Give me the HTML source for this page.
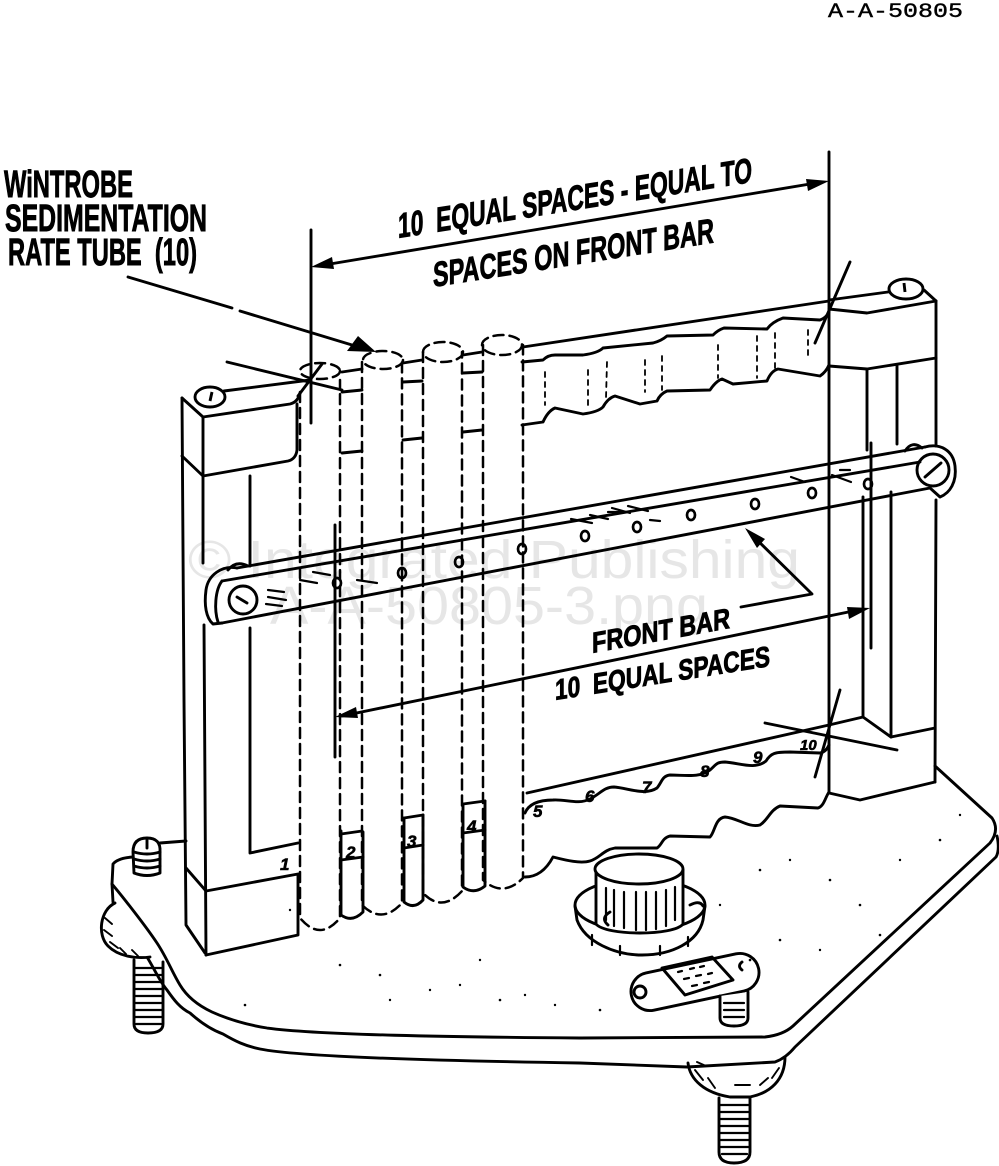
<!DOCTYPE html>
<html><head><meta charset="utf-8"><style>
html,body{margin:0;padding:0;background:#fff;}
svg{display:block}
</style></head><body>
<svg width="999" height="1166" viewBox="0 0 999 1166" xmlns="http://www.w3.org/2000/svg">
<rect width="999" height="1166" fill="#fff"/>

<!-- watermark -->
<g font-family="Liberation Sans, sans-serif" fill="#e6e6e6" font-size="54">
<text x="188" y="578" textLength="612" lengthAdjust="spacingAndGlyphs">© Integrated Publishing</text>
<text x="270" y="624" textLength="438" lengthAdjust="spacingAndGlyphs">A-A-50805-3.png</text>
</g>

<!-- header -->
<text x="828" y="17" font-family="Liberation Mono, monospace" font-size="20" textLength="135" lengthAdjust="spacingAndGlyphs" fill="#000" stroke="#000" stroke-width="0.4">A-A-50805</text>

<!-- labels -->
<g font-family="Liberation Sans Narrow, Liberation Sans, sans-serif" font-weight="bold" fill="#000" stroke="#000" stroke-width="0.9">
<text x="4" y="197" font-size="38" textLength="129" lengthAdjust="spacingAndGlyphs">WiNTROBE</text>
<text x="5" y="231" font-size="38" textLength="202" lengthAdjust="spacingAndGlyphs">SEDIMENTATION</text>
<text x="8" y="265" font-size="38" textLength="189" lengthAdjust="spacingAndGlyphs">RATE TUBE&#160; (10)</text>
<text transform="translate(398,238) skewY(-9)" font-size="35" textLength="354" lengthAdjust="spacingAndGlyphs">10&#160; EQUAL SPACES - EQUAL TO</text>
<text transform="translate(433,287) skewY(-9)" font-size="35" textLength="281" lengthAdjust="spacingAndGlyphs">SPACES ON FRONT BAR</text>
<text transform="translate(592,653) skewY(-10.3)" font-size="29" textLength="138" lengthAdjust="spacingAndGlyphs">FRONT BAR</text>
<text transform="translate(555,700) skewY(-9)" font-size="29" textLength="215" lengthAdjust="spacingAndGlyphs">10&#160; EQUAL SPACES</text>
</g>

<g stroke="#000" stroke-width="2.9" fill="none" stroke-linecap="round" stroke-linejoin="round">

<!-- dimension lines top -->
<path d="M311,230 L311,423"/>
<path d="M829,152 L829,793"/>
<path d="M318,266 L822,182"/>
<!-- wintrobe leader -->
<path d="M128,277 L232,308 M240,311 L352,345"/>

<!-- bottom dimension -->
<path d="M335,525 L335,757"/>
<path d="M871,443 L871,648"/>
<path d="M342,716 L863,609"/>
<!-- front bar leader -->
<path d="M741,607 L812,594 L752,535"/>

<!-- LEFT COLUMN -->
<path d="M182,398 L184,700 L186,925 L205,953"/>
<path d="M203,417 L203,563 M204,625 L206,955"/>
<path d="M182,398 L203,417 L290,404 Q298,402 300,393"/>
<path d="M224,391 L310,380"/>
<path d="M182,456 L203,476"/>
<path d="M203,476 L288,461 Q296,459 297,450 L297,404"/>
<path d="M250,476 L250,566 M250,628 L250,853 L298,843"/>
<path d="M186,868 L206,891 L298,874 L298,935 L206,955"/>

<!-- RIGHT COLUMN -->
<path d="M829,300 L888,292"/>
<path d="M924,290 L936,301"/>
<path d="M829,309 L867,313 L936,301"/>
<path d="M829,366 L867,369 L936,358"/>
<path d="M936,301 L936,446 M936,500 L935,782"/>
<path d="M867,369 L867,450 M897,366 L897,444"/>
<path d="M863,497 L863,717 M891,492 L891,737"/>
<path d="M829,725 L863,717 L891,737 L935,728"/>
<path d="M829,793 L860,800 L935,782"/>

<!-- BACK BAR -->
<path d="M523,347 L829,301"/>
<path d="M522,362 L543,360 Q548,355 555,355 L583,355 Q598,353 603,348 L653,343 Q661,341 667,336 L713,335 Q718,330 724,328 L767,329 Q772,322 783,318 L820,320 Q826,318 829,312"/>
<path d="M522,425 L543,422 Q548,411 555,408 L583,414 Q598,412 603,407 Q608,398 615,396 L640,404 L657,401 Q660,394 667,391 L710,390 Q716,381 722,379 L733,384 L767,381 Q771,371 778,369 L820,376 Q826,372 829,365"/>
<path d="M342,372 L362,369 M342,392 L362,390 M342,453 L362,451"/>
<path d="M403,363 L422,360 M403,382 L422,381 M403,440 L422,438"/>
<path d="M463,355 L482,352 M463,373 L482,372 M463,432 L482,430"/>
<g stroke-width="1.8" stroke-dasharray="5 5">
<path d="M545,372 L545,405 M588,370 L588,410 M607,362 L606,398 M645,360 L645,392 M662,356 L662,390 M718,345 L718,378 M757,336 L757,378 M775,333 L775,368 M808,330 L808,360"/>
</g>

<!-- FRONT BAR -->
<path d="M237,568 L925,447"/>
<path d="M222,581 L920,462"/>
<path d="M222,623 L930,488"/>
<path d="M237,568 C222,565 208,575 206,590 C204,605 206,618 213,624 L222,623"/>
<path d="M222,581 C215,590 214,610 218,622"/>
<path d="M228,570 Q236,560 248,566"/>
<circle cx="243" cy="600" r="14"/>
<path d="M237,597 L247,603"/>
<path d="M905,451 Q912,440 922,448"/>
<path d="M925,447 C940,443 953,450 955,466 C957,482 950,493 940,497 L930,488"/>
<circle cx="933" cy="470" r="16"/>
<path d="M925,477 L941,463"/>
<g stroke-width="2.7">
<ellipse cx="337" cy="583" rx="4" ry="5"/>
<ellipse cx="402" cy="573" rx="4" ry="5"/>
<ellipse cx="459" cy="562" rx="4" ry="5"/>
<ellipse cx="522" cy="549" rx="4" ry="5"/>
<ellipse cx="585" cy="536" rx="4" ry="5"/>
<ellipse cx="637" cy="527" rx="4" ry="5"/>
<ellipse cx="691" cy="515" rx="4" ry="5"/>
<ellipse cx="755" cy="504" rx="4" ry="5"/>
<ellipse cx="812" cy="493" rx="4" ry="5"/>
<ellipse cx="868" cy="484" rx="4" ry="5"/>
</g>
<g stroke-width="2.2">
<path d="M300,580 L317,583 M313,572 L330,575 M357,580 L377,583 M268,590 L284,592 M268,597 L286,600 M266,604 L282,606"/>
<path d="M571,519 L592,523 M590,515 L608,519 M612,508 L630,513 M628,506 L648,511 M650,520 L660,521 M608,512 L625,512"/>
<path d="M791,477 L805,482 M832,475 L851,482 M840,470 L850,470"/>
</g>

<!-- TUBES (dashed) -->
<g stroke-width="2.5" stroke-dasharray="10 6">
<path d="M300,392 L300,918 Q320,942 340,918 L340,380"/>
<path d="M362,362 L362,905 Q382,925 402,903 L402,362"/>
<path d="M423,352 L423,893 Q442,913 462,891 L462,352"/>
<path d="M483,345 L483,880 Q503,898 523,878 L523,345"/>
<ellipse cx="320" cy="371" rx="20" ry="8"/>
<ellipse cx="383" cy="360" rx="20" ry="9"/>
<ellipse cx="443" cy="352" rx="20" ry="10"/>
<ellipse cx="502" cy="345" rx="20" ry="10"/>
</g>

<!-- crosshairs -->
<path d="M227,362 L342,390"/>
<path d="M298,396 L322,364"/>
<path d="M850,262 L815,343"/>
<path d="M765,723 L897,750"/>
<path d="M840,690 L815,777"/>

<!-- slots 2-4 -->
<path d="M341,831 L341,915 Q352,923 363,912 L363,832"/>
<path d="M341,834 L362,831 M341,860 L363,857"/>
<path d="M404,818 L404,902 Q414,910 423,900 L423,815"/>
<path d="M404,818 L423,815 M404,848 L423,845"/>
<path d="M463,804 L463,887 Q474,895 485,886 L485,801"/>
<path d="M463,804 L485,801 M463,833 L485,830"/>

<!-- FRONT RACK -->
<path d="M527,793 L829,725"/>
<path d="M525,813 C530,801 545,800 553,800 C566,799 578,805 590,799 C600,794 604,787 614,787 C628,788 645,796 657,788 C662,782 662,776 670,775 C685,775 700,778 710,770 C716,765 716,762 725,762 C740,763 755,770 766,761 C771,753 775,752 790,752 L820,753 Q826,752 829,745"/>
<path d="M525,877 C535,877 545,872 553,857 C565,860 580,864 590,861 C600,858 603,850 615,848 L657,848 C662,845 662,838 670,836 L710,837 C715,832 715,818 725,817 C738,818 748,828 760,825 C768,820 770,810 780,806 L818,808 C824,806 825,798 829,792"/>

<!-- BASE PLATE -->
<path d="M160,843 L186,841"/>
<path d="M133,857 Q118,858 113,864 L112,884 L113,902"/>
<path d="M112,884 C122,896 145,925 157,943 C167,958 172,972 180,985 C186,995 195,1004 212,1012 C230,1020 248,1025 267,1028 C320,1035 450,1037 580,1038 L765,1037 Q783,1035 793,1026 L990,843 Q1000,830 992,818 L935,766"/>
<path d="M147,957 C155,970 160,982 167,990 C174,1000 180,1008 190,1013 C200,1022 212,1030 223,1034 C235,1041 245,1046 260,1049 C300,1057 450,1061 580,1063 L687,1067 L775,1062 Q786,1058 795,1047 L996,857 Q1000,850 997,836"/>
<!-- left foot -->
<path d="M115,903 C100,910 97,935 108,946 C118,956 135,959 150,957" fill="#fff"/>
<g stroke-width="1.9"><path d="M105,918 L112,924 M104,930 L112,936 M110,942 L118,948 M120,948 L126,954 M132,950 L138,956"/></g>
<path d="M134,960 L134,1024 Q134,1033 148,1033 Q163,1033 163,1024 L163,962"/>
<g stroke-width="2.3"><path d="M135,968 L162,968 M135,975 L162,975 M135,982 L162,982 M135,989 L162,989 M135,996 L162,996 M135,1003 L162,1003 M135,1010 L162,1010 M135,1017 L162,1017 M136,1024 L161,1024"/></g>
<!-- top-left stud -->
<path d="M133,852 Q133,838 147,838 Q161,838 160,852 L160,873 Q147,878 134,873 Z" fill="#fff"/>
<path d="M134,852 Q147,856 160,852 M134,859 Q147,863 160,859 M134,866 Q147,870 160,866"/>
<path d="M147,840 L147,848"/>

<!-- right foot -->
<path d="M688,1063 C690,1080 705,1093 730,1097 L750,1097 C770,1093 785,1080 785,1057"/>
<g stroke-width="1.9"><path d="M695,1070 L703,1080 M708,1078 L715,1088 M760,1085 L768,1078 M772,1078 L779,1068 M697,1062 L706,1066 M735,1085 L750,1085"/></g>
<path d="M719,1098 L719,1152 Q719,1163 734,1163 Q750,1163 750,1152 L750,1098"/>
<g stroke-width="2.3"><path d="M720,1105 L749,1105 M720,1112 L749,1112 M720,1119 L749,1119 M720,1126 L749,1126 M720,1133 L749,1133 M720,1140 L749,1140 M720,1147 L749,1147 M722,1154 L747,1154"/></g>

<!-- knob -->
<ellipse cx="640" cy="905" rx="65" ry="26" fill="#fff"/>
<path d="M575,906 L577,920 C585,942 615,955 642,955 C672,955 698,942 703,920 L705,906"/>
<g stroke-width="2.2"><path d="M592,935 L592,945 M620,946 L620,955 M660,946 L660,955 M688,937 L688,946"/></g>
<path d="M596,870 L596,924 C606,936 674,936 683,924 L683,870 Z" fill="#fff"/>
<ellipse cx="639" cy="869" rx="44" ry="15" fill="#fff"/>
<g stroke-width="2.2"><path d="M606,888 L606,920 M614,890 L614,926 M624,892 L624,928 M636,892 L636,930 M646,892 L646,930 M656,892 L656,929 M666,890 L666,926 M675,887 L675,920"/></g>
<path d="M608,925 Q600,918 610,912"/>
<path d="M690,905 Q700,900 703,906"/>

<!-- tag -->
<rect x="-65" y="-19" width="130" height="38" rx="19" transform="translate(695,982) rotate(-12)" fill="#fff"/>
<path d="M662,968 L712,957 L733,980 L685,995 Z"/>
<circle cx="640" cy="992" r="6"/>
<path d="M742,962 Q737,966 742,970"/>
<g stroke-width="2.2"><path d="M678,972 L682,971 M690,969 L694,968 M700,967 L704,966 M684,979 L689,978 M696,976 L701,975 M708,974 L712,973 M692,986 L697,985 M704,983 L709,982"/></g>
<path d="M720,996 L720,1018 Q720,1026 734,1026 Q748,1026 748,1018 L748,992" fill="#fff"/>
<g stroke-width="2.2"><path d="M724,1003 L744,1003 M724,1010 L744,1010 M724,1017 L744,1017"/></g>
</g>

<!-- arrowheads -->
<g fill="#000" stroke="none">
<polygon points="311,267 334,269 332,257"/>
<polygon points="829,181 806,179 808,191"/>
<polygon points="347,351 358,336 376,352"/>
<polygon points="335,717 358,718 356,707"/>
<polygon points="870,608 847,607 849,619"/>
<polygon points="745,528 765,539 757,548"/>
</g>

<!-- screws on tops -->
<g stroke="#000" stroke-width="2.9" fill="#fff">
<ellipse cx="210" cy="397" rx="15" ry="10"/>
<ellipse cx="906" cy="289" rx="17" ry="10"/>
</g>
<path d="M212,392 L210,401 M904,283 L905,292" stroke="#000" stroke-width="2.9"/>

<!-- numbers -->
<g font-family="Liberation Sans, sans-serif" font-weight="bold" font-style="italic" font-size="17" fill="#000" stroke="#000" stroke-width="0.6">
<text x="280" y="870">1</text>
<text x="346" y="858">2</text>
<text x="407" y="847">3</text>
<text x="467" y="832">4</text>
<text x="533" y="817">5</text>
<text x="585" y="802">6</text>
<text x="642" y="793">7</text>
<text x="700" y="777">8</text>
<text x="753" y="763">9</text>
<text x="800" y="750" font-size="15">10</text>
</g>

<!-- speckles -->
<g fill="#000">
<circle cx="340" cy="965" r="1.3"/><circle cx="380" cy="975" r="1.3"/><circle cx="430" cy="990" r="1.2"/>
<circle cx="460" cy="985" r="1.2"/><circle cx="500" cy="1000" r="1.3"/><circle cx="525" cy="995" r="1.2"/>
<circle cx="555" cy="1005" r="1.2"/><circle cx="600" cy="1010" r="1.3"/><circle cx="480" cy="960" r="1.2"/>
<circle cx="760" cy="870" r="1.3"/><circle cx="790" cy="860" r="1.2"/><circle cx="830" cy="880" r="1.3"/>
<circle cx="860" cy="905" r="1.3"/><circle cx="900" cy="860" r="1.2"/><circle cx="940" cy="840" r="1.3"/>
<circle cx="960" cy="815" r="1.2"/><circle cx="880" cy="935" r="1.3"/><circle cx="820" cy="950" r="1.2"/>
<circle cx="780" cy="940" r="1.3"/><circle cx="720" cy="905" r="1.2"/><circle cx="750" cy="960" r="1.3"/>
<circle cx="290" cy="910" r="1.2"/><circle cx="245" cy="1005" r="1.3"/><circle cx="390" cy="1000" r="1.2"/>
</g>
</svg>
</body></html>
